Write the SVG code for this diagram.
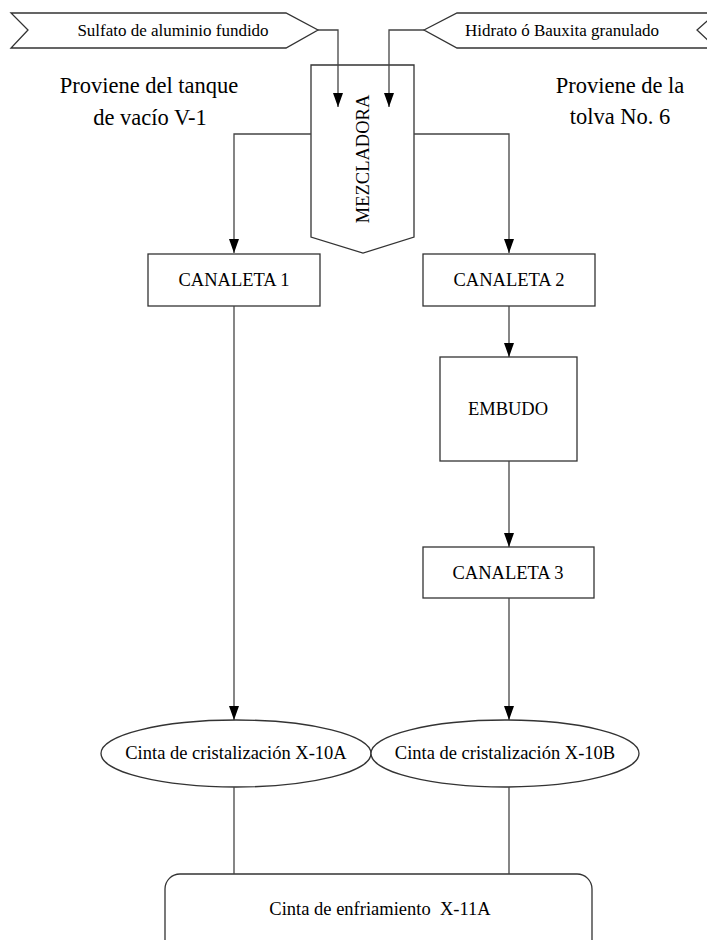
<svg xmlns="http://www.w3.org/2000/svg" width="707" height="940" viewBox="0 0 707 940">
<defs>
<style>
.s{fill:#fff;stroke:#333;stroke-width:1.3}
.c{fill:none;stroke:#444;stroke-width:1.3}
.t{font-family:"Liberation Serif","Times New Roman",serif;fill:#000;text-anchor:middle}
.lab{font-size:17px}
.box{font-size:18.5px}
.big{font-size:22.5px}
</style>
</defs>
<rect width="707" height="940" fill="#fff"/>
<g id="sulfato">
<polygon class="s" points="11,13 286,13 318,30 286,48 11,48 28,30"/>
<text class="t lab" x="173" y="36">Sulfato de aluminio fundido</text>
</g>
<g id="hidrato">
<polygon class="s" points="424,30 457,13 716,13 697,30 716,48 457,48"/>
<text class="t lab" x="562" y="36">Hidrato ó Bauxita granulado</text>
</g>
<g id="nota-izq">
<text class="t big" x="149" y="93">Proviene del tanque</text>
<text class="t big" x="150" y="125">de vacío V-1</text>
</g>
<g id="nota-der">
<text class="t big" x="620" y="93">Proviene de la</text>
<text class="t big" x="620" y="124">tolva No. 6</text>
</g>
<g id="mezcladora">
<polygon class="s" points="311,65 414,65 414,237 363,253 311,237"/>
<text class="t box" transform="translate(369,159) rotate(-90)" x="0" y="0">MEZCLADORA</text>
</g>
<g id="canaleta1">
<rect class="s" x="148" y="254" width="172" height="52"/>
<text class="t box" x="234" y="286">CANALETA 1</text>
</g>
<g id="canaleta2">
<rect class="s" x="423" y="254" width="172" height="52"/>
<text class="t box" x="509" y="286">CANALETA 2</text>
</g>
<g id="embudo">
<rect class="s" x="440" y="357" width="137" height="104"/>
<text class="t box" x="508" y="415">EMBUDO</text>
</g>
<g id="canaleta3">
<rect class="s" x="423" y="547" width="171" height="51"/>
<text class="t box" x="508" y="579">CANALETA 3</text>
</g>
<g id="cinta-x10a">
<ellipse class="s" cx="236" cy="753.5" rx="135" ry="33.5"/>
<text class="t box" x="236" y="759">Cinta de cristalización X-10A</text>
</g>
<g id="cinta-x10b">
<ellipse class="s" cx="505" cy="753.5" rx="134" ry="33.5"/>
<text class="t box" x="505" y="759">Cinta de cristalización X-10B</text>
</g>
<g id="cinta-x11a">
<rect class="s" x="165" y="874" width="427" height="90" rx="15" ry="15"/>
<text class="t box" x="380" y="915" xml:space="preserve">Cinta de enfriamiento  X-11A</text>
</g>
<g id="connectors">
<path class="c" d="M318,30 H338 V107"/>
<path class="c" d="M424,30 H389 V107"/>
<path class="c" d="M311,134 H234 V253"/>
<path class="c" d="M414,134 H509 V253"/>
<path class="c" d="M509,306 V357"/>
<path class="c" d="M509,461 V547"/>
<path class="c" d="M234,306 V720"/>
<path class="c" d="M509,598 V720"/>
<path class="c" d="M234,787 V874"/>
<path class="c" d="M509,787 V874"/>
<g fill="#000">
<path d="M333,93 L343,93 L338,107 Z"/>
<path d="M384,93 L394,93 L389,107 Z"/>
<path d="M229,239 L239,239 L234,253 Z"/>
<path d="M504,239 L514,239 L509,253 Z"/>
<path d="M504,343 L514,343 L509,357 Z"/>
<path d="M504,533 L514,533 L509,547 Z"/>
<path d="M229,706 L239,706 L234,720 Z"/>
<path d="M504,706 L514,706 L509,720 Z"/>
</g>
</g>
</svg>
